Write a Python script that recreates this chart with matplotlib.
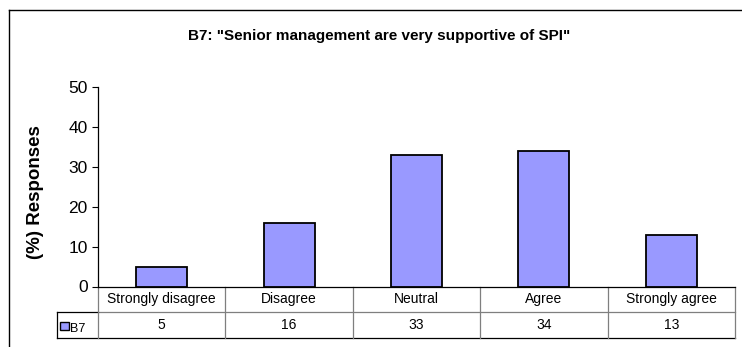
import matplotlib
matplotlib.use('Agg')
import matplotlib.pyplot as plt
from matplotlib.patches import Rectangle
from matplotlib.lines import Line2D

plt.rcParams['font.family'] = ['Liberation Sans', 'DejaVu Sans']

# survey responses, percent
categories = ['Strongly disagree', 'Disagree', 'Neutral', 'Agree', 'Strongly agree']
b7 = [5, 16, 33, 34, 13]
series_name = 'B7'
title = 'B7: "Senior management are very supportive of SPI"'
yticks = [0, 10, 20, 30, 40, 50]

W, H = 742, 347
fig = plt.figure(figsize=(W / 100, H / 100), dpi=100)

# plot area in pixel terms
x0, x1 = 98, 735
y_top, y_bot = 87.3, 286.5
ax = fig.add_axes([x0 / W, 1 - y_bot / H, (x1 - x0) / W, (y_bot - y_top) / H])

n = len(categories)
xs = list(range(n))
ax.bar(xs, b7, width=0.4, color='#9999FF', edgecolor='black', linewidth=1.3, zorder=3)

ax.set_xlim(-0.5, n - 0.5)
ax.set_ylim(0, 50)
ax.set_yticks(yticks)
ax.tick_params(axis='y', direction='out', length=4.5, width=0.8, labelsize=12.5, pad=3)
ax.set_xticks([])
for s in ['top', 'right']:
    ax.spines[s].set_visible(False)
ax.spines['left'].set_linewidth(0.9)
ax.spines['bottom'].set_linewidth(0.9)

# data table under the axis
row_h = 25.75 / (y_bot - y_top)
grey = '#7f7f7f'
tr = ax.transAxes
leg_left = (57 - x0) / (x1 - x0)

def hline(xa, xb, y, c):
    ax.add_line(Line2D([xa, xb], [y, y], transform=tr, color=c, lw=0.9, clip_on=False))

def vline(x, ya, yb, c):
    ax.add_line(Line2D([x, x], [ya, yb], transform=tr, color=c, lw=0.9, clip_on=False))

hline(0, 1, -row_h, grey)
hline(leg_left, 1, -2 * row_h, 'black')
hline(leg_left, 0, -row_h, 'black')
for i in range(n + 1):
    vline(i / n, 0, -2 * row_h, grey)
vline(leg_left, -row_h, -2 * row_h, 'black')

for i, (cat, v) in enumerate(zip(categories, b7)):
    cx = (i + 0.5) / n
    ax.text(cx, -0.5 * row_h, cat, transform=tr, ha='center', va='center', fontsize=10)
    ax.text(cx, -1.5 * row_h, f'{v:g}', transform=tr, ha='center', va='center', fontsize=10)

# legend key in the table
ax.add_patch(Rectangle((60 / W, 1 - 330 / H), 9 / W, 8.5 / H, transform=fig.transFigure,
                       facecolor='#9999FF', edgecolor='black', lw=1.0, clip_on=False))
fig.text(70 / W, 1 - 329 / H, series_name, fontsize=9, ha='left', va='center')

ax.set_ylabel('(%) Responses', fontsize=13.5, fontweight='bold')
ax.yaxis.set_label_coords((44 - x0) / (x1 - x0), (y_bot - 192) / (y_bot - y_top))

fig.text(379 / W, 1 - 40 / H, title, ha='center', va='baseline', fontsize=11, fontweight='bold')

# chart border
fig.add_artist(Line2D([9 / W, 9 / W], [0, 1 - 10 / H], transform=fig.transFigure, color='black', lw=1.0))
fig.add_artist(Line2D([9 / W, 1], [1 - 10 / H, 1 - 10 / H], transform=fig.transFigure, color='black', lw=1.0))

fig.savefig('out.png', dpi=100)
